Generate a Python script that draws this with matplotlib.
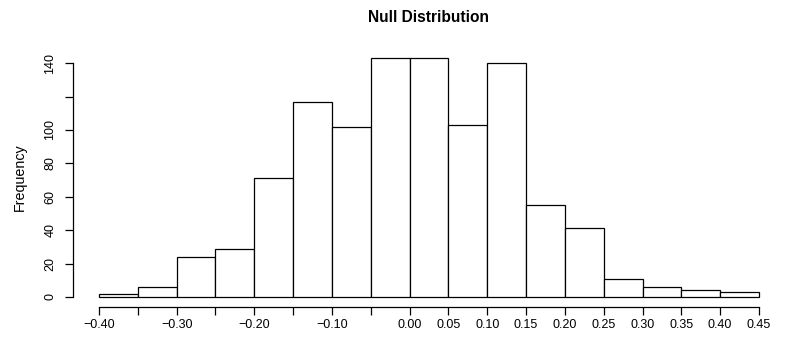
import numpy as np
import matplotlib
matplotlib.use("Agg")
import matplotlib.pyplot as plt

plt.rcParams["font.family"] = ["Liberation Sans", "DejaVu Sans"]

# histogram bin edges and counts
bin_edges = [-0.40, -0.35, -0.30, -0.25, -0.20, -0.15, -0.10, -0.05, 0.00,
             0.05, 0.10, 0.15, 0.20, 0.25, 0.30, 0.35, 0.40, 0.45]
counts = [2, 6, 24, 29, 71, 117, 102, 143, 143, 103, 140, 55, 41, 11, 6, 4, 3]

x_ticks = bin_edges
x_labels = ["\u22120.40", "", "\u22120.30", "", "\u22120.20", "", "\u22120.10", "",
            "0.00", "0.05", "0.10", "0.15", "0.20", "0.25", "0.30", "0.35",
            "0.40", "0.45"]
y_ticks = [0, 20, 40, 60, 80, 100, 120, 140]
y_labels = ["0", "20", "40", "60", "80", "100", "", "140"]

fig = plt.figure(figsize=(7.86, 3.37), dpi=100)
ax = fig.add_axes([0.0924, 0.0905, 0.9068, 0.7655])

lefts = np.array(bin_edges[:-1])
widths = np.diff(bin_edges)
ax.bar(lefts, counts, width=widths, align="edge", color="white",
       edgecolor="black", linewidth=0.9)

# R style 4% padding around the data range
xr = bin_edges[-1] - bin_edges[0]
ax.set_xlim(bin_edges[0] - 0.04 * xr, bin_edges[-1] + 0.04 * xr)
ymax = max(counts)
ax.set_ylim(-0.04 * ymax, ymax * 1.04)

for s in ["top", "right"]:
    ax.spines[s].set_visible(False)
ax.spines["left"].set_bounds(0, 140)
ax.spines["bottom"].set_bounds(bin_edges[0], bin_edges[-1])
ax.spines["left"].set_linewidth(0.9)
ax.spines["bottom"].set_linewidth(0.9)

ax.set_xticks(x_ticks)
ax.set_xticklabels(x_labels)
ax.set_yticks(y_ticks)
ax.set_yticklabels(y_labels, rotation=90, va="center")
ax.tick_params(axis="both", length=5.5, width=0.9, labelsize=9)
ax.tick_params(axis="x", pad=3.2)
ax.tick_params(axis="y", pad=6.2)

ax.set_ylabel("Frequency", fontsize=10.3, labelpad=12.5)
ax.set_title("Null Distribution", fontsize=11.2, fontweight="bold", pad=19)

fig.savefig("out.png", dpi=100)
